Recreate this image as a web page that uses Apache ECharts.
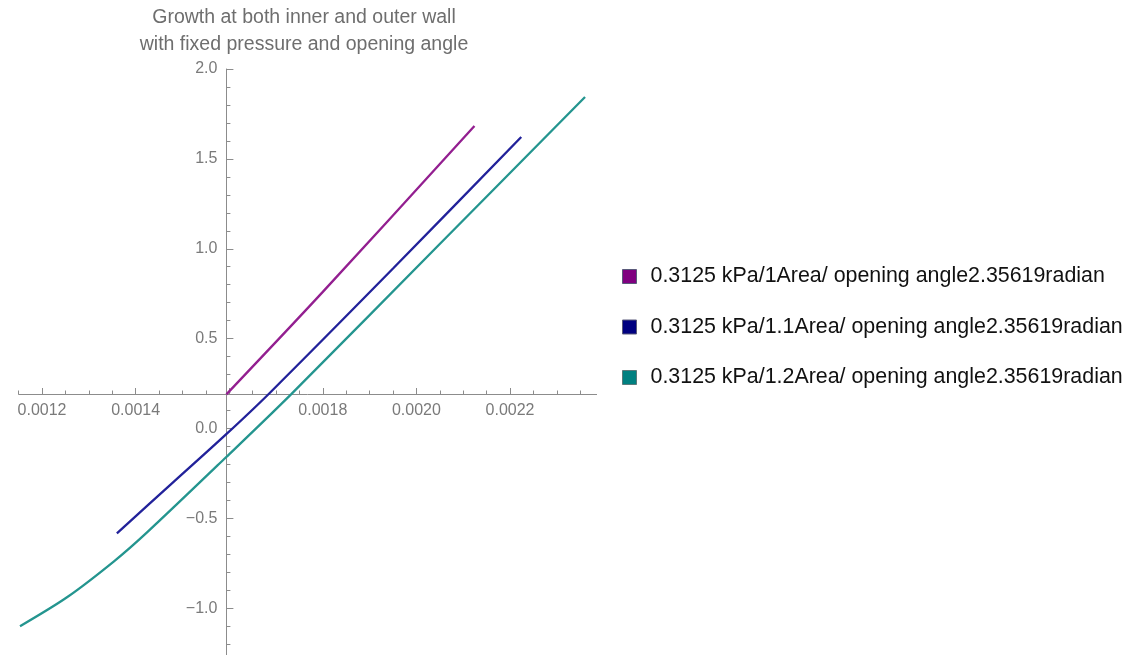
<!DOCTYPE html>
<html>
<head>
<meta charset="utf-8">
<script src="https://cdn.jsdelivr.net/npm/echarts@6/dist/echarts.min.js"></script>
<style>html,body{margin:0;padding:0;background:#fff;}#c{width:1127px;height:655px;}</style>
</head>
<body>
<div id="c"></div>
<script>
// ---- data ----
const seriesNames = [
  '0.3125 kPa/1Area/ opening angle2.35619radian',
  '0.3125 kPa/1.1Area/ opening angle2.35619radian',
  '0.3125 kPa/1.2Area/ opening angle2.35619radian'
];
const purpleX = [0.001594, 0.0018, 0.002124];
const purpleY = [0.19, 0.76, 1.683];
const blueX = [0.00136, 0.00148, 0.0015932, 0.0016855, 0.00195, 0.002224];
const blueY = [-0.583, -0.30, -0.033, 0.195, 0.89, 1.622];
const tealX = [0.001153, 0.0012534, 0.0013538, 0.0014244, 0.0015932, 0.0017321, 0.0020504, 0.0023603];
const tealY = [-1.10, -0.939, -0.739, -0.578, -0.16, 0.19, 1.028, 1.844];

// ---- ticks ----
const xLabelTicks = [0.0012, 0.0014, 0.0018, 0.0020, 0.0022];
const xMajorTicks = [0.0012, 0.0014, 0.0016, 0.0018, 0.0020, 0.0022];
const xMinorTicks = [0.00115, 0.00125, 0.0013, 0.00135, 0.00145, 0.0015, 0.00155, 0.00165, 0.0017, 0.00175,
  0.00185, 0.0019, 0.00195, 0.00205, 0.0021, 0.00215, 0.00225, 0.0023, 0.00235];
const yMajorTicks = [-1.0, -0.5, 0.0, 0.5, 1.0, 1.5, 2.0];
const yMinorTicks = [-1.2, -1.1, -0.9, -0.8, -0.7, -0.6, -0.4, -0.3, -0.2, -0.1, 0.1, 0.2, 0.3, 0.4,
  0.6, 0.7, 0.8, 0.9, 1.1, 1.2, 1.3, 1.4, 1.6, 1.7, 1.8, 1.9];

// ---- axis ranges and crossing point ----
const xMin = 0.00115, xMax = 0.002385;
const yMin = -1.26, yMax = 2.0;
const xCross = 0.001594; // where the vertical axis sits
const yCross = 0.19;     // where the horizontal axis sits

const gridLeft = 18.6, gridTop = 69, gridW = 578, gridH = 586.8;
const xAxisOffset = -gridH * (yCross - yMin) / (yMax - yMin);
const yAxisOffset = -gridW * (xCross - xMin) / (xMax - xMin);

const axisColor = '#8c8c8c';
const labelColor = '#7a7a7a';
const font = 'Liberation Sans, Arial, Helvetica, sans-serif';

function zip(xs, ys) { return xs.map((x, i) => [x, ys[i]]); }

const chart = echarts.init(document.getElementById('c'), null, {renderer: 'canvas'});
chart.setOption({
  animation: false,
  backgroundColor: '#fff',
  title: {
    text: 'Growth at both inner and outer wall\nwith fixed pressure and opening angle',
    left: 304, top: 4, padding: 0, textAlign: 'center',
    textStyle: {color: '#6e6e6e', fontSize: 19.5, fontWeight: 'normal', fontFamily: font, lineHeight: 27}
  },
  legend: {
    orient: 'vertical', left: 622, top: 266, padding: 0,
    itemWidth: 14, itemHeight: 14, itemGap: 29.5, icon: 'rect',
    textStyle: {color: '#111', fontSize: 21.4, fontFamily: font, lineHeight: 21, padding: [0, 0, 0, 9]},
    data: [
      {name: seriesNames[0], itemStyle: {color: '#800080', borderColor: '#5a5a7a', borderWidth: 1}},
      {name: seriesNames[1], itemStyle: {color: '#000080', borderColor: '#5a5a7a', borderWidth: 1}},
      {name: seriesNames[2], itemStyle: {color: '#008080', borderColor: '#5a7a7a', borderWidth: 1}}
    ]
  },
  grid: {left: gridLeft, top: gridTop, width: gridW, height: gridH, containLabel: false},
  xAxis: [
    {
      type: 'value', min: xMin, max: xMax, position: 'bottom', offset: xAxisOffset,
      axisLine: {show: true, onZero: false, lineStyle: {color: axisColor, width: 1}},
      axisTick: {show: true, inside: true, length: 6, customValues: xMajorTicks, lineStyle: {color: axisColor}},
      axisLabel: {show: true, customValues: xLabelTicks, margin: 9, color: labelColor, fontSize: 16, fontFamily: font,
        formatter: v => v.toFixed(4)},
      splitLine: {show: false}
    },
    {
      type: 'value', min: xMin, max: xMax, position: 'bottom', offset: xAxisOffset,
      axisLine: {show: false, onZero: false},
      axisTick: {show: true, inside: true, length: 3.5, customValues: xMinorTicks, lineStyle: {color: axisColor}},
      axisLabel: {show: false},
      splitLine: {show: false}
    }
  ],
  yAxis: [
    {
      type: 'value', min: yMin, max: yMax, position: 'left', offset: yAxisOffset,
      axisLine: {show: true, onZero: false, lineStyle: {color: axisColor, width: 1}},
      axisTick: {show: true, inside: true, length: 7, customValues: yMajorTicks, lineStyle: {color: axisColor}},
      axisLabel: {show: true, customValues: yMajorTicks, margin: 9, color: labelColor, fontSize: 16, fontFamily: font,
        formatter: v => v.toFixed(1).replace('-', '\u2212')},
      splitLine: {show: false}
    },
    {
      type: 'value', min: yMin, max: yMax, position: 'left', offset: yAxisOffset,
      axisLine: {show: false, onZero: false},
      axisTick: {show: true, inside: true, length: 4, customValues: yMinorTicks, lineStyle: {color: axisColor}},
      axisLabel: {show: false},
      splitLine: {show: false}
    }
  ],
  series: [
    {name: seriesNames[0], type: 'line', xAxisIndex: 0, yAxisIndex: 0, data: zip(purpleX, purpleY),
      showSymbol: false, smooth: 0.3, lineStyle: {color: '#931f90', width: 2.3}, itemStyle: {color: '#800080'}},
    {name: seriesNames[1], type: 'line', xAxisIndex: 0, yAxisIndex: 0, data: zip(blueX, blueY),
      showSymbol: false, smooth: 0.3, lineStyle: {color: '#22229a', width: 2.3}, itemStyle: {color: '#000080'}},
    {name: seriesNames[2], type: 'line', xAxisIndex: 0, yAxisIndex: 0, data: zip(tealX, tealY),
      showSymbol: false, smooth: 0.3, lineStyle: {color: '#24958f', width: 2.3}, itemStyle: {color: '#008080'}}
  ]
});
</script>
</body>
</html>
